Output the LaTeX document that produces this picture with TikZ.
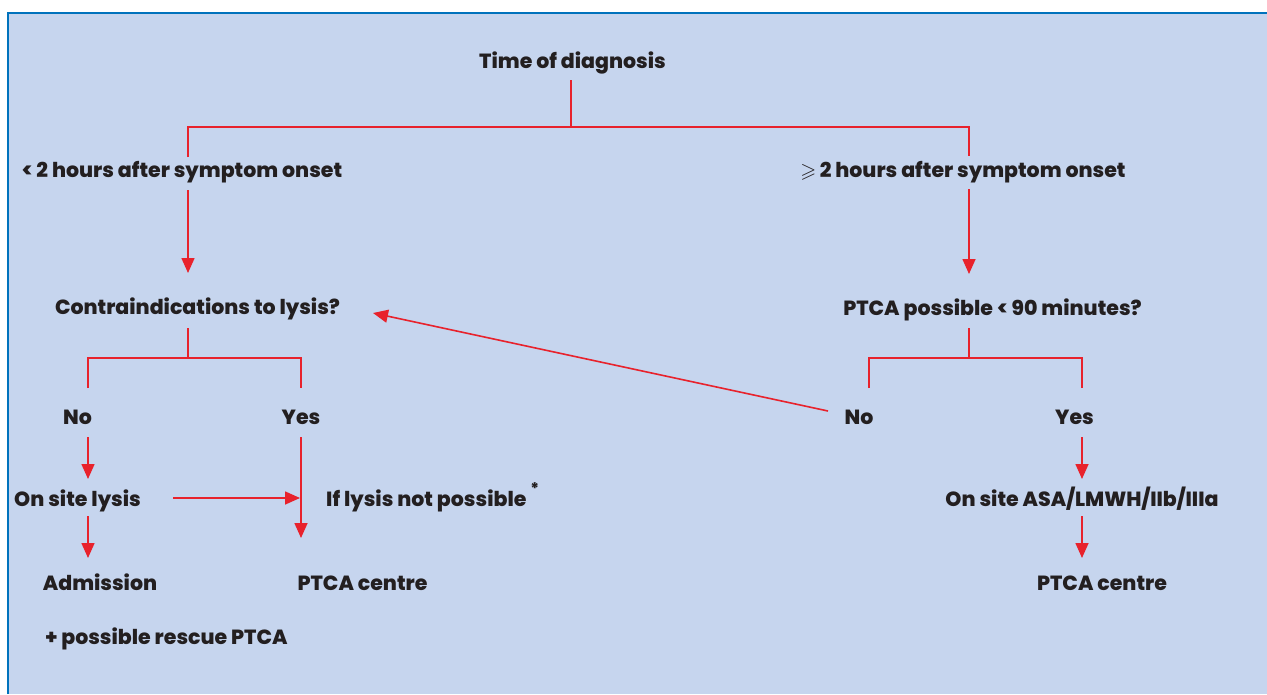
\documentclass[tikz,border=0pt]{standalone}
\usepackage{amssymb}
\usepackage{fontspec}
\setmainfont{Poppins}[BoldFont={Poppins ExtraBold}]
\usetikzlibrary{arrows.meta,calc}
\definecolor{bgblue}{RGB}{198,213,238}
\definecolor{frameblue}{RGB}{0,114,188}
\definecolor{lnred}{RGB}{232,34,44}
\definecolor{txt}{RGB}{35,31,32}
\tikzset{
  lbl/.style={anchor=base, inner sep=0pt, text=txt, font=\fontsize{20.5}{24}\selectfont\bfseries},
  lblw/.style={lbl, anchor=base west},
  ln/.style={draw=lnred, line width=1.6pt},
  arr/.style={ln, -{Triangle[width=13pt,length=15pt,fill=lnred]}},
  frame/.style={draw=frameblue, line width=2pt}
}
\begin{document}
\begin{tikzpicture}[x=1pt,y=-1pt]
\useasboundingbox (0,0) rectangle (1267,694);
\fill[bgblue] (8,13) rectangle (1267,694);
\draw[frame] (8,694) -- (8,13) -- (1267,13);

% nodes
\node[lbl] (tod) at (572.5,68) {Time of diagnosis};
\node[lbl] (lt) at (182,177) {< 2 hours after symptom onset};
\node[lbl] (gt) at (963,177) {{\mdseries$\geqslant$}\,2 hours after symptom onset};
\node[lbl] (ci) at (197.5,314) {Contraindications to lysis?};
\node[lbl] (pp) at (992.5,315) {PTCA possible < 90 minutes?};
\node[lbl] (no1) at (77.5,424) {No};
\node[lbl] (yes1) at (301,424) {Yes};
\node[lbl] (no2) at (859,424) {No};
\node[lbl] (yes2) at (1074.5,424) {Yes};
\node[lbl] (osl) at (77.5,506) {On site lysis};
\node[lblw] (ilnp) at (326,506) {If lysis not possible\hspace{4pt}\raisebox{12pt}{\fontsize{16}{16}\selectfont *}};
\node[lbl] (asa) at (1082,506) {On site ASA/LMWH/IIb/IIIa};
\node[lbl] (adm) at (100,590) {Admission};
\node[lbl] (pc1) at (362.5,590) {PTCA centre};
\node[lbl] (pc2) at (1102,590) {PTCA centre};
\node[lbl] (resc) at (166.5,644) {+ possible rescue PTCA};

% junctions
\coordinate (jT) at (571,127);
\coordinate (jL) at (188,127);
\coordinate (jR) at (969,127);
\coordinate (cj) at (188,358);
\coordinate (cnL) at (88,358);
\coordinate (cnR) at (301,358);
\coordinate (pj) at (969,358);
\coordinate (pnL) at (869,358);
\coordinate (pnR) at (1082,358);

% top split
\draw[ln] ($(tod.base -| jT)+(0,12)$) -- (jT);
\draw[ln] ($(lt.base -| jL)+(0,-20)$) -- (jL) -- (jR) -- ($(gt.base -| jR)+(0,-21)$);
\draw[arr] ($(lt.base -| jL)+(0,13)$) -- ($(ci.base -| jL)+(0,-41)$);
\draw[arr] ($(gt.base -| jR)+(0,12)$) -- ($(pp.base -| jR)+(0,-41)$);

% contraindications split
\draw[ln] ($(ci.base -| cj)+(0,14)$) -- (cj);
\draw[ln] ($(no1.base -| cnL)+(0,-36)$) -- (cnL) -- (cnR) -- ($(yes1.base -| cnR)+(0,-36)$);

% PTCA possible split
\draw[ln] ($(pp.base -| pj)+(0,13)$) -- (pj);
\draw[ln] ($(no2.base -| pnL)+(0,-36)$) -- (pnL) -- (pnR) -- ($(yes2.base -| pnR)+(0,-36)$);

% left branch
\draw[arr] ($(no1.base -| cnL)+(0,13)$) -- ($(osl.base -| cnL)+(0,-27)$);
\draw[arr] ($(osl.base -| cnL)+(0,10)$) -- ($(adm.base -| cnL)+(0,-32)$);
\draw[arr] ($(yes1.base -| cnR)+(0,13)$) -- ($(pc1.base -| cnR)+(0,-52)$);
\draw[arr] ($(osl.base)+(95.5,-8)$) -- ($(ilnp.base west)+(-26,-8)$);

% cross arrow
\draw[arr] ($(no2.base)+(-31,-13)$) -- ($(ci.base)+(175.5,-1)$);

% right branch
\draw[arr] ($(yes2.base -| pnR)+(0,13)$) -- ($(asa.base -| pnR)+(0,-27)$);
\draw[arr] ($(asa.base -| pnR)+(0,10)$) -- ($(pc2.base -| pnR)+(0,-32)$);
\end{tikzpicture}
\end{document}
